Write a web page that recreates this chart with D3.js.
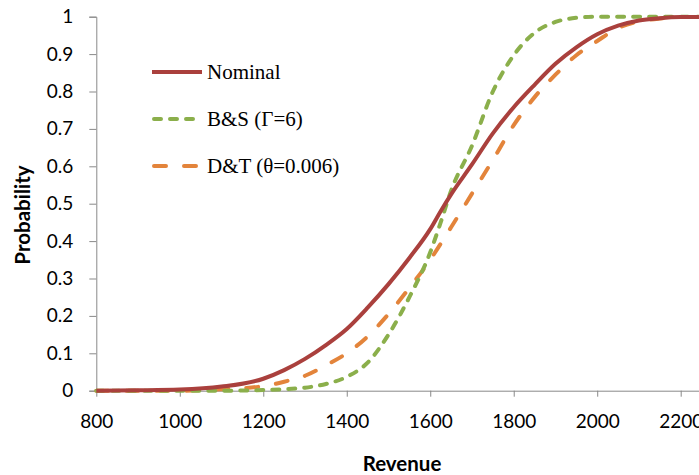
<!DOCTYPE html>
<html>
<head>
<meta charset="utf-8">
<script src="https://cdn.jsdelivr.net/npm/d3@7"></script>
<style>
  html, body { margin: 0; padding: 0; background: #fff; }
  svg { display: block; }
</style>
</head>
<body>
<svg id="chart" width="699" height="475"></svg>
<script>
// Revenue grid shared by all three cumulative distributions
const revenue = [800, 900, 1000, 1100, 1200, 1250, 1300, 1350, 1400, 1450, 1500, 1550,
                 1600, 1625, 1650, 1700, 1750, 1800, 1850, 1900, 1950, 2000, 2050, 2100,
                 2150, 2200, 2300];

// Cumulative probability of revenue, per model
const nominal = [0, 0.001, 0.003, 0.011, 0.032, 0.055, 0.085, 0.122, 0.165, 0.222, 0.285, 0.355,
                 0.432, 0.48, 0.525, 0.605, 0.688, 0.758, 0.818, 0.874, 0.918, 0.953, 0.976, 0.99,
                 0.996, 0.999, 1];
const bertsimasSim = [0, 0, 0, 0, 0.002, 0.004, 0.008, 0.018, 0.037, 0.075, 0.15, 0.25,
                      0.37, 0.45, 0.535, 0.655, 0.8, 0.897, 0.957, 0.986, 0.997, 1, 1, 1,
                      1, 1, 1];
const dataThrottled = [0, 0, 0, 0.004, 0.012, 0.024, 0.04, 0.068, 0.1, 0.145, 0.205, 0.275,
                       0.35, 0.393, 0.437, 0.527, 0.617, 0.71, 0.785, 0.845, 0.897, 0.935, 0.97, 0.987,
                       0.995, 0.999, 1];

const seriesNames = ["Nominal", "B&S (\u0393=6)", "D&T (\u03B8=0.006)"];
const seriesColors = ["#AA403D", "#8BAF4B", "#E3843B"];

const xTicks = [800, 1000, 1200, 1400, 1600, 1800, 2000, 2200];
const yTicks = [0, 0.1, 0.2, 0.3, 0.4, 0.5, 0.6, 0.7, 0.8, 0.9, 1];

const svg = d3.select("#chart");
const axisGray = "#898989";
const tickFont = "Lato, 'Open Sans', sans-serif";

// The plotting area continues past the right edge of the page
const x = d3.scaleLinear().domain([800, 2400]).range([96.3, 96.3 + 1600 * 0.41743]);
const y = d3.scaleLinear().domain([0, 1]).range([390.7, 16.7]);

// Y axis
const yAxis = svg.append("g")
  .attr("transform", `translate(${x(800)},0)`)
  .call(d3.axisLeft(y).tickValues(yTicks).tickSize(7).tickPadding(16)
        .tickFormat(d => d3.format("")(+d.toFixed(1))));
yAxis.select(".domain").attr("stroke", axisGray);
yAxis.selectAll(".tick line").attr("stroke", axisGray);
yAxis.selectAll(".tick text")
  .attr("font-family", tickFont).attr("font-size", 19).attr("fill", "#000");

// X axis
const xAxis = svg.append("g")
  .attr("transform", `translate(0,${y(0)})`)
  .call(d3.axisBottom(x).tickValues(xTicks).tickSize(6).tickPadding(18).tickSizeOuter(0)
        .tickFormat(d3.format("d")));
xAxis.select(".domain").attr("stroke", axisGray);
xAxis.selectAll(".tick line").attr("stroke", axisGray);
xAxis.selectAll(".tick text")
  .attr("font-family", tickFont).attr("font-size", 19).attr("fill", "#000");

// Axis titles
svg.append("text")
  .attr("transform", `translate(30,215) rotate(-90)`)
  .attr("text-anchor", "middle")
  .attr("font-family", tickFont).attr("font-weight", "bold").attr("font-size", 20.5)
  .text("Probability");
svg.append("text")
  .attr("x", 402).attr("y", 471)
  .attr("text-anchor", "middle")
  .attr("font-family", tickFont).attr("font-weight", "bold").attr("font-size", 20.5)
  .text("Revenue");

// Curves
const dashes = [null, "7,9", "12,18"];
const values = [nominal, bertsimasSim, dataThrottled];
const line = d3.line()
  .x((d, i) => x(revenue[i]))
  .y(d => y(d))
  .curve(d3.curveMonotoneX);

// Drawn so that Nominal stays on top, as in the legend order
[2, 1, 0].forEach(k => {
  svg.append("path")
    .datum(values[k])
    .attr("d", line)
    .attr("fill", "none")
    .attr("stroke", seriesColors[k])
    .attr("stroke-width", 4)
    .attr("stroke-linecap", k === 0 ? "butt" : "round")
    .attr("stroke-linejoin", "round")
    .attr("stroke-dasharray", dashes[k]);
});

// Legend
const legend = svg.append("g");
seriesNames.forEach((name, k) => {
  const ly = 72 + k * 47;
  legend.append("line")
    .attr("x1", k === 0 ? 152 : 154).attr("x2", k === 0 ? 202 : 200)
    .attr("y1", ly).attr("y2", ly)
    .attr("stroke", seriesColors[k])
    .attr("stroke-width", 4)
    .attr("stroke-linecap", k === 0 ? "butt" : "round")
    .attr("stroke-dasharray", dashes[k]);
  legend.append("text")
    .attr("x", 207).attr("y", ly)
    .attr("dy", "0.35em")
    .attr("font-family", "'Liberation Serif', 'Times New Roman', serif")
    .attr("font-size", 21)
    .attr("fill", "#000")
    .text(name);
});
</script>
</body>
</html>
